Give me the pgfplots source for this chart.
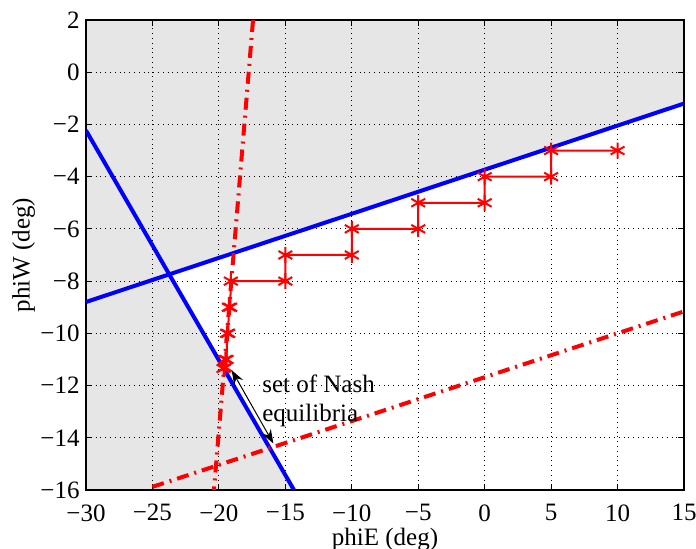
\documentclass[border=0pt]{standalone}
\usepackage{fontspec}
\setmainfont{Liberation Serif}
\usepackage{pgfplots}
\pgfplotsset{compat=1.18}
\usetikzlibrary{arrows.meta}
\definecolor{mblue}{RGB}{0,0,255}
\definecolor{mred}{RGB}{255,0,0}
\definecolor{mgray}{RGB}{230,230,230}
\begin{document}
\begin{tikzpicture}
\begin{axis}[
  set layers,
  scale only axis,
  width=299pt, height=235pt,
  xmin=-30, xmax=15, ymin=-16, ymax=2,
  xtick={-30,-25,...,15},
  xticklabels={−30,−25,−20,−15,−10,−5,0,5,10,15},
  ytick={-16,-14,...,2},
  yticklabels={−16,−14,−12,−10,−8,−6,−4,−2,0,2},
  tick align=inside,
  major tick length=3pt,
  grid=major,
  major grid style={black, line width=0.4pt, dotted},
  axis line style={black, line width=0.6pt},
  tick style={black, line width=0.5pt},
  ticklabel style={font=\fontsize{12.5}{14}\selectfont},
  xticklabel style={inner sep=0pt, yshift=-7pt},
  yticklabel style={inner sep=0pt, xshift=-3pt},
  label style={font=\fontsize{12.5}{14}\selectfont},
  xlabel={phiE (deg)},
  ylabel={phiW (deg)},
  xlabel style={inner sep=0pt, yshift=-3pt},
  ylabel style={inner sep=0pt, yshift=2.5pt},
  clip=true,
]
% gray region
\addplot[on layer=axis background, fill=mgray, draw=none] coordinates {
  (-30,2) (15,2) (15,-1.2) (-23.74,-7.742) (-14.35,-16) (-30,-16)} -- cycle;
% blue lines
\addplot[mblue, line width=2pt] coordinates {(-30,-8.8) (15,-1.2)};
\addplot[mblue, line width=2pt] coordinates {(-30,-2.23) (-14.35,-16)};
% red dash-dot lines
\addplot[mred, line width=2pt, dash pattern=on 6pt off 3pt on 1pt off 3pt] coordinates {(-17.43,2) (-20.37,-16)};
\addplot[mred, line width=2pt, dash pattern=on 6pt off 3pt on 1pt off 3pt] coordinates {(-25,-15.88) (15,-9.16)};
% iterations
\addplot[mred, line width=1pt, mark=asterisk, mark size=4pt, mark options={line width=1pt}] coordinates {
  (10,-3) (5,-3) (5,-4) (0,-4) (0,-5) (-5,-5) (-5,-6) (-10,-6) (-10,-7)
  (-15,-7) (-15,-8) (-19.1,-8) (-19.15,-9) (-19.25,-9) (-19.3,-10) (-19.38,-10)
  (-19.42,-11) (-19.52,-11) (-19.55,-11.3) (-19.65,-11.35)};
% arrow
\draw[{Stealth[length=7pt,width=5pt]}-{Stealth[length=7pt,width=5pt]}, black, line width=0.5pt]
  (axis cs:-19.04,-11.41) -- (axis cs:-15.9,-14.22);
\node[anchor=north west, inner sep=0pt, align=left, font=\fontsize{12.5}{14.5}\selectfont]
  at (axis cs:-16.76,-11.56) {set of Nash\\equilibria};
\end{axis}
\pgfresetboundingbox
\path ([shift={(-43pt,-29.5pt)}]current axis.south west) rectangle ([shift={(6pt,10pt)}]current axis.north east);
\end{tikzpicture}
\end{document}
